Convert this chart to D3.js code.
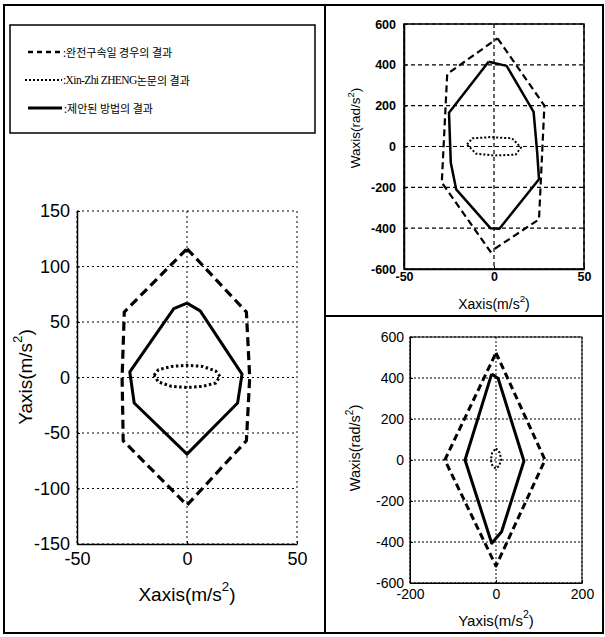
<!DOCTYPE html>
<html><head><meta charset="utf-8">
<script src="https://cdn.jsdelivr.net/npm/d3@7"></script>
<style>html,body{margin:0;padding:0;background:#fff;}svg{display:block;}</style>
</head><body>
<svg id="c" width="605" height="637"></svg>
<script>
// ---------- data ----------
const legendLabels = [":완전구속일 경우의 결과", ":Xin-Zhi ZHENG논문의 결과", ":제안된 방법의 결과"];

// Left panel: Xaxis vs Yaxis
const leftXTicks = [-50, 0, 50];
const leftYTicks = [-150, -100, -50, 0, 50, 100, 150];
const leftDashed = [[0,116],[27,59],[28.5,0],[27,-57],[0,-115],[-29,-57],[-29.5,0],[-28.5,59],[0,116]];
const leftSolid  = [[0,67],[6,60],[25,3],[23,-23],[0,-69],[-24,-23],[-26,5],[-6,62],[0,67]];
const leftDotted = [[-15,2],[-13,7],[-7,10],[0,11],[7,10],[13,6],[15,1],[13,-5],[7,-8],[0,-9],[-7,-8],[-13,-4],[-15,2]];

// Top-right panel: Xaxis vs Waxis
const trXTicks = [-50, 0, 50];
const trYTicks = [-600, -400, -200, 0, 200, 400, 600];
const trDashed = [[2,530],[28,200],[25,-357],[-2,-515],[-29,-177],[-26,355],[2,530]];
const trSolid  = [[-3,415],[7,395],[22,170],[24,-30],[25,-160],[3,-403],[-2,-400],[-21,-210],[-24,-80],[-25,165],[-3,415]];
const trDotted = [[-15,10],[-12,40],[-2,46],[10,40],[15,-5],[12,-40],[0,-44],[-10,-35],[-15,10]];

// Bottom-right panel: Yaxis vs Waxis
const brXTicks = [-200, 0, 200];
const brYTicks = [-600, -400, -200, 0, 200, 400, 600];
const brDashed = [[0,523],[114,0],[0,-517],[-119,0],[0,523]];
const brSolid  = [[-10,420],[5,398],[65,-5],[13,-350],[-10,-406],[-72,0],[-10,420]];
const brDotted = [[0,57],[9,35],[12,0],[7,-30],[0,-42],[-8,-30],[-12,0],[-9,35],[0,57]];

// ---------- drawing ----------
const svg = d3.select('#c');
const SANS = "'Liberation Sans', Arial, sans-serif";

// frames
svg.append('rect').attr('x',4).attr('y',5).attr('width',599).attr('height',628)
  .attr('fill','none').attr('stroke','#000').attr('stroke-width',2);
svg.append('line').attr('x1',325).attr('x2',325).attr('y1',5).attr('y2',633).attr('stroke','#000').attr('stroke-width',2);
svg.append('line').attr('x1',325).attr('x2',603).attr('y1',316).attr('y2',316).attr('stroke','#000').attr('stroke-width',2);

// legend
svg.append('rect').attr('x',10).attr('y',25).attr('width',305).attr('height',108)
  .attr('fill','none').attr('stroke','#000').attr('stroke-width',1.5);
const legY = [52, 80, 108];
const legStyles = [
  {dash:'5,4', w:2.5, x1:28},
  {dash:'2,2', w:2, x1:25},
  {dash:null, w:3, x1:28}
];
legStyles.forEach((s,i)=>{
  const l = svg.append('line').attr('x1',s.x1).attr('x2',62).attr('y1',legY[i]).attr('y2',legY[i])
    .attr('stroke','#000').attr('stroke-width',s.w);
  if (s.dash) l.attr('stroke-dasharray', s.dash);
});
legendLabels.forEach((t,i)=>{
  const tx = svg.append('text').attr('x', i===2?64:63).attr('y',legY[i]).attr('dominant-baseline','central')
    .attr('font-size',11).attr('font-family',"'Noto Sans CJK KR', sans-serif");
  const m = t.match(/^(:Xin-Zhi ZHENG)(.*)$/);
  if (m) {
    tx.append('tspan').attr('font-family',"'Liberation Serif', serif").attr('font-size',11.5)
      .attr('letter-spacing',-0.6).text(m[1]);
    tx.append('tspan').text(m[2]);
  } else tx.text(t);
});

function panel(cfg){
  const g = svg.append('g');
  const x = d3.scaleLinear().domain(cfg.xDomain).range([cfg.left, cfg.right]);
  const y = d3.scaleLinear().domain(cfg.yDomain).range([cfg.bottom, cfg.top]);
  // grid
  g.append('g').selectAll('line').data(cfg.xTicks).join('line')
    .attr('x1',d=>x(d)).attr('x2',d=>x(d)).attr('y1',cfg.top).attr('y2',cfg.bottom)
    .attr('stroke','#000').attr('stroke-width',cfg.gridW).attr('stroke-dasharray',cfg.gridDash);
  g.append('g').selectAll('line').data(cfg.yTicks).join('line')
    .attr('y1',d=>y(d)).attr('y2',d=>y(d)).attr('x1',cfg.left).attr('x2',cfg.right)
    .attr('stroke','#000').attr('stroke-width',cfg.gridW).attr('stroke-dasharray',cfg.gridDash);
  // axes
  const xa = g.append('g').attr('transform',`translate(0,${cfg.bottom})`)
    .call(d3.axisBottom(x).tickValues(cfg.xTicks).tickSize(-3).tickSizeOuter(0)
      .tickPadding(cfg.xPad).tickFormat(d=>String(d)));
  const ya = g.append('g').attr('transform',`translate(${cfg.left},0)`)
    .call(d3.axisLeft(y).tickValues(cfg.yTicks).tickSize(-3).tickSizeOuter(0)
      .tickPadding(cfg.yPad).tickFormat(d=>String(d)));
  [xa,ya].forEach(a=>{
    a.attr('font-family',SANS).attr('font-size',cfg.tickFont).attr('font-weight',cfg.tickWeight||'normal');
    a.selectAll('text').attr('fill','#000');
    a.select('.domain').attr('stroke-width',cfg.axisW);
  });
  if (cfg.box) {
    g.append('rect').attr('x',cfg.left).attr('y',cfg.top).attr('width',cfg.right-cfg.left)
      .attr('height',cfg.bottom-cfg.top).attr('fill','none').attr('stroke','#000').attr('stroke-width',cfg.axisW);
  }
  // series
  const line = d3.line().x(d=>x(d[0])).y(d=>y(d[1])).curve(d3.curveLinearClosed);
  const ser = [
    {d:cfg.dashed, dash:cfg.dashedDash, w:cfg.dashedW},
    {d:cfg.solid, dash:null, w:cfg.solidW},
    {d:cfg.dotted, dash:cfg.dottedDash, w:cfg.dottedW}
  ];
  ser.forEach(s=>{
    const p = g.append('path').attr('d', d3.line().x(d=>x(d[0])).y(d=>y(d[1]))(s.d))
      .attr('fill','none').attr('stroke','#000').attr('stroke-width',s.w).attr('stroke-linejoin','round');
    if (s.dash) p.attr('stroke-dasharray',s.dash);
  });
  // labels
  const xl = g.append('text').attr('x',(cfg.left+cfg.right)/2).attr('y',cfg.xLabelY)
    .attr('text-anchor','middle').attr('dominant-baseline','central')
    .attr('font-family',SANS).attr('font-size',cfg.labelFont);
  xl.append('tspan').text(cfg.xLabel+'(m/s');
  xl.append('tspan').attr('font-size',cfg.labelFont*0.7).attr('dy',-cfg.labelFont*0.4).text('2');
  xl.append('tspan').attr('dy',cfg.labelFont*0.4).text(')');
  const yl = g.append('text').attr('transform',`translate(${cfg.yLabelX},${cfg.yLabelY}) rotate(-90)`)
    .attr('text-anchor','middle').attr('dominant-baseline','central')
    .attr('font-family',SANS).attr('font-size',cfg.yLabelFont||cfg.labelFont);
  const yf = cfg.yLabelFont||cfg.labelFont;
  yl.append('tspan').text(cfg.yLabel+'(' + cfg.yUnit + '/s');
  yl.append('tspan').attr('font-size',yf*0.7).attr('dy',-yf*0.4).text('2');
  yl.append('tspan').attr('dy',yf*0.4).text(')');
}

panel({
  left:77, right:297, top:211, bottom:544,
  xDomain:[-50,50], yDomain:[-150,150], xTicks:leftXTicks, yTicks:leftYTicks,
  gridDash:'2,3', gridW:1, axisW:1.5, box:false,
  xPad:8, yPad:7, tickFont:18,
  dashed:leftDashed, solid:leftSolid, dotted:leftDotted,
  dashedDash:'9,5', dashedW:3.2, solidW:3, dottedDash:'2.5,2.5', dottedW:3,
  xLabel:'Xaxis', yLabel:'Yaxis', yUnit:'m', labelFont:19, yLabelFont:19,
  xLabelY:594, yLabelX:25, yLabelY:377
});

panel({
  left:404, right:584, top:24, bottom:269,
  xDomain:[-50,50], yDomain:[-600,600], xTicks:trXTicks, yTicks:trYTicks,
  gridDash:'4,3', gridW:1.2, axisW:1.5, box:true,
  xPad:3, yPad:8, tickFont:12.5, tickWeight:'bold',
  dashed:trDashed, solid:trSolid, dotted:trDotted,
  dashedDash:'7,4', dashedW:2.2, solidW:2.5, dottedDash:'2,2', dottedW:2,
  xLabel:'Xaxis', yLabel:'Waxis', yUnit:'rad', labelFont:14, yLabelFont:13.5,
  xLabelY:304, yLabelX:355, yLabelY:128
});

panel({
  left:410, right:582, top:337, bottom:583,
  xDomain:[-200,200], yDomain:[-600,600], xTicks:brXTicks, yTicks:brYTicks,
  gridDash:'2,2', gridW:1, axisW:1, box:true,
  xPad:6, yPad:6, tickFont:14,
  dashed:brDashed, solid:brSolid, dotted:brDotted,
  dashedDash:'7,4', dashedW:3, solidW:3, dottedDash:'2,2', dottedW:2,
  xLabel:'Yaxis', yLabel:'Waxis', yUnit:'rad', labelFont:15, yLabelFont:14.5,
  xLabelY:620, yLabelX:355, yLabelY:448
});
</script>
</body></html>
